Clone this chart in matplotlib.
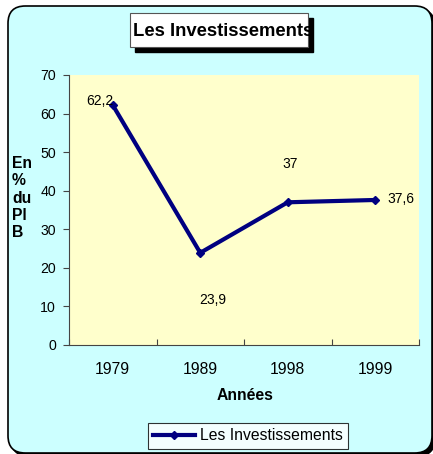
import matplotlib
matplotlib.use('Agg')
import matplotlib.pyplot as plt
from matplotlib.patches import FancyBboxPatch, Rectangle

annees = ['1979', '1989', '1998', '1999']
investissements = [62.2, 23.9, 37, 37.6]
etiquettes = ['62,2', '23,9', '37', '37,6']
# label offsets in pixels (dx, dy)
decalages = [(-13, 4), (12, -47), (2, 38), (26, 1)]

W, H = 433, 454
plt.rcParams['font.family'] = ['Liberation Sans', 'DejaVu Sans']

fig = plt.figure(figsize=(W / 100, H / 100), dpi=100, facecolor='white')


def px(x, y):
    # pixel (from top-left) -> figure fraction
    return x / W, 1 - y / H


# outer rounded frame with shadow
x0, y0 = px(8, 453)
x1, y1 = px(432, 6)
ombre = FancyBboxPatch((x0 + 3 / W, y0 - 3 / H), x1 - x0, y1 - y0,
                       boxstyle='round,pad=0,rounding_size=0.04',
                       transform=fig.transFigure, fc='black', ec='black',
                       mutation_aspect=W / H, zorder=-3)
cadre = FancyBboxPatch((x0, y0), x1 - x0, y1 - y0,
                       boxstyle='round,pad=0,rounding_size=0.04',
                       transform=fig.transFigure, fc='#CCFFFF', ec='black',
                       lw=1.2, mutation_aspect=W / H, zorder=-2)
fig.patches.extend([ombre, cadre])

# title box with shadow
tx0, ty0 = px(130, 47)
tw, th = 178 / W, 34 / H
fig.patches.append(Rectangle((tx0 + 5 / W, ty0 - 5 / H), tw, th,
                             transform=fig.transFigure, fc='black', ec='black', zorder=2))
fig.patches.append(Rectangle((tx0, ty0), tw, th, transform=fig.transFigure,
                             fc='white', ec='#555555', lw=0.8, zorder=3))
fig.text(*px(133, 31), 'Les Investissements', fontsize=13.3, fontweight='bold',
         ha='left', va='center', zorder=4)

ax = fig.add_axes([69 / W, 109 / H, 350 / W, 270 / H])
ax.set_zorder(5)
ax.set_facecolor('#FFFFCC')
x = list(range(len(annees)))
ax.plot(x, investissements, color='#000080', lw=3, marker='D', ms=4,
        label='Les Investissements', zorder=3)
for xi, yi, txt, (dx, dy) in zip(x, investissements, etiquettes, decalages):
    ax.annotate(txt, (xi, yi), xytext=(dx, dy), textcoords='offset pixels',
                ha='center', va='center', fontsize=10)

ax.set_xlim(-0.5, 3.5)
ax.set_ylim(0, 70)
ax.set_yticks(range(0, 71, 10))
ax.set_xticks([-0.5, 0.5, 1.5, 2.5, 3.5])
ax.set_xticklabels([])
ax.set_xticks(x, minor=True)
ax.set_xticklabels(annees, minor=True)
ax.tick_params(axis='x', which='minor', length=0, pad=12, labelsize=11.3)
ax.tick_params(axis='x', which='major', length=4, direction='in', color='#444444')
ax.tick_params(axis='y', length=4, direction='out', pad=5.5, labelsize=10.2,
               color='#444444')
for s in ['top', 'right']:
    ax.spines[s].set_visible(False)
for s in ['left', 'bottom']:
    ax.spines[s].set_color('#444444')

ax.set_xlabel('Années', fontsize=11.3, fontweight='bold', va='center')
ax.xaxis.set_label_coords((245 - 69) / 350, -(396 - 345) / 270)
fig.text(*px(12, 198), 'En\n%\ndu\nPl\nB', fontsize=11.3, fontweight='bold',
         ha='left', va='center', multialignment='left', linespacing=1.2)

leg = fig.legend(loc='center', bbox_to_anchor=(248 / W, 1 - 436 / H),
                 frameon=True, fancybox=False, fontsize=11.3,
                 handlelength=2.66, borderpad=0.35, handletextpad=0.3)
leg.get_frame().set_edgecolor('black')
leg.get_frame().set_linewidth(0.8)

fig.savefig('out.png', dpi=100, facecolor='white')
